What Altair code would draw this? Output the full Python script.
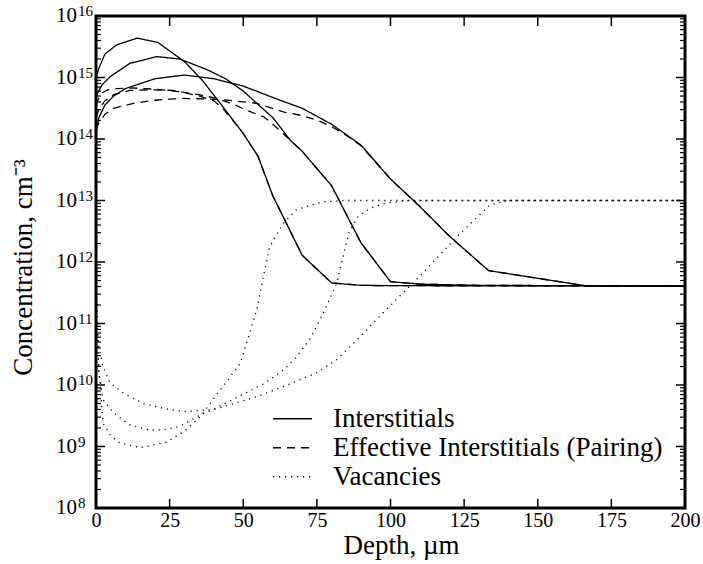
import altair as alt
import pandas as pd

W, H = 589, 492
FONT = "Liberation Serif"

# ---- data (depth in µm, log10 of concentration in cm^-3) ----
# Interstitials (solid)
int1_x = [0, 1, 3, 7, 14, 21, 30, 36, 43, 50, 55, 60, 70, 80, 90, 100, 200]
int1_l = [15.0, 15.15, 15.38, 15.53, 15.64, 15.57, 15.26, 14.96, 14.53, 14.09, 13.72, 13.08, 12.11, 11.66, 11.62, 11.615, 11.61]
int2_x = [0, 2, 5, 11.5, 20.6, 28.5, 37.6, 44, 50, 54.6, 60, 66, 70, 80, 90, 100, 110, 130, 200]
int2_l = [14.69, 14.88, 15.02, 15.23, 15.34, 15.30, 15.13, 14.98, 14.78, 14.58, 14.35, 13.98, 13.8, 13.24, 12.31, 11.68, 11.64, 11.62, 11.61]
int3_x = [0, 1, 3, 6, 10, 20, 30, 40, 50, 62.5, 70, 80, 90, 100, 110, 120, 133.3, 166.7, 200]
int3_l = [14.1, 14.35, 14.55, 14.7, 14.82, 14.98, 15.04, 14.98, 14.86, 14.63, 14.5, 14.24, 13.9, 13.35, 12.9, 12.42, 11.86, 11.61, 11.61]

# Effective interstitials (pairing) (dashed)
eff1_x = [0, 1, 2, 4, 7, 12, 20, 28.5, 35, 40, 43, 46.5, 50, 55, 60, 70, 80, 90, 100, 200]
eff1_l = [14.55, 14.68, 14.75, 14.8, 14.82, 14.83, 14.81, 14.77, 14.7, 14.62, 14.5, 14.3, 14.09, 13.72, 13.08, 12.11, 11.66, 11.62, 11.615, 11.61]
eff2_x = [0, 1, 3, 6, 11.5, 20, 26, 35, 41, 47, 51, 57, 61, 66, 70, 80, 90, 100, 110, 130, 200]
eff2_l = [14.35, 14.48, 14.62, 14.72, 14.79, 14.8, 14.79, 14.72, 14.66, 14.56, 14.47, 14.36, 14.2, 13.98, 13.8, 13.24, 12.31, 11.68, 11.64, 11.62, 11.61]
eff3_x = [0, 1, 3, 6, 12.7, 20, 28.5, 38.7, 45, 54.6, 63.6, 70, 75, 80, 84, 90, 100, 110, 120, 133.3, 166.7, 200]
eff3_l = [14.15, 14.27, 14.4, 14.5, 14.58, 14.63, 14.66, 14.65, 14.63, 14.58, 14.44, 14.38, 14.31, 14.2, 14.09, 13.89, 13.35, 12.9, 12.42, 11.86, 11.61, 11.61]

# Vacancies (dotted)
vac1_x = [0, 0.5, 1, 2.4, 4.8, 8, 15, 24, 30, 35.3, 43, 49, 54.6, 56.8, 59, 63.6, 68, 77, 85, 200]
vac1_l = [11.9, 10.8, 10.2, 9.38, 9.19, 9.06, 8.98, 9.07, 9.25, 9.48, 9.97, 10.35, 11.22, 11.76, 12.25, 12.63, 12.85, 12.98, 13.0, 13.0]
vac2_x = [0, 0.4, 1, 2.4, 5.9, 11.5, 18, 23, 28.5, 35, 43, 50, 57, 63.6, 68, 72.7, 77, 81.7, 86, 89, 93, 97.5, 106, 200]
vac2_l = [11.6, 10.8, 10.2, 9.76, 9.55, 9.35, 9.27, 9.27, 9.33, 9.5, 9.68, 9.85, 10.02, 10.24, 10.45, 10.75, 11.15, 11.65, 12.5, 12.74, 12.87, 12.95, 13.0, 13.0]
vac3_x = [0, 0.4, 1, 2.4, 4.8, 9.3, 16, 25, 30, 40, 54.6, 65, 75, 81.7, 90, 97, 103, 111, 122.5, 133.8, 140, 200]
vac3_l = [11.8, 11.0, 10.6, 10.3, 10.03, 9.87, 9.7, 9.6, 9.57, 9.6, 9.81, 10.0, 10.2, 10.41, 10.8, 11.15, 11.44, 11.82, 12.41, 12.93, 13.0, 13.0]

kinds = ["Interstitials", "Effective Interstitials (Pairing)", "Vacancies"]

series = [
    (kinds[0], "i1", int1_x, int1_l), (kinds[0], "i2", int2_x, int2_l), (kinds[0], "i3", int3_x, int3_l),
    (kinds[1], "e1", eff1_x, eff1_l), (kinds[1], "e2", eff2_x, eff2_l), (kinds[1], "e3", eff3_x, eff3_l),
    (kinds[2], "v1", vac1_x, vac1_l), (kinds[2], "v2", vac2_x, vac2_l), (kinds[2], "v3", vac3_x, vac3_l),
]
rows = []
for kind, run, xs, ls in series:
    for i, (x, l) in enumerate(zip(xs, ls)):
        rows.append({"kind": kind, "run": run, "order": i, "depth": x, "conc": 10 ** l})
df = pd.DataFrame(rows)

# tick positions and tick labels
y_exponents = [8, 9, 10, 11, 12, 13, 14, 15, 16]
y_major = [10 ** e for e in y_exponents]
y_minor = [k * 10 ** e for e in range(8, 16) for k in range(2, 10)]
x_major = [0, 25, 50, 75, 100, 125, 150, 175, 200]
x_inner = [25, 50, 75, 100, 125, 150, 175]

xscale = alt.Scale(domain=[0, 200], nice=False, zero=False)
yscale = alt.Scale(type="log", domain=[1e8, 1e16], nice=False)

XTITLE = "Depth, \u00b5m"
YTITLE = "Concentration, cm\u207b\u00b3"

xaxis = alt.Axis(values=x_major, ticks=False, domain=False, grid=False,
                 labelFont=FONT, labelFontSize=20, labelColor="black",
                 labelPadding=2, labelFlush=False, labelOverlap=False,
                 titleFont=FONT, titleFontSize=27,
                 titleFontWeight="normal", titleColor="black",
                 titleX=305, titleY=45, titleBaseline="alphabetic")
yaxis = alt.Axis(values=y_major, labels=False, ticks=False, domain=False, grid=False,
                 titleFont=FONT, titleFontSize=27,
                 titleFontWeight="normal", titleColor="black",
                 titleX=-59, titleY=251)


def yenc(field="v"):
    return alt.Y(f"{field}:Q", scale=yscale, axis=yaxis, title=YTITLE)


def xenc(field="v"):
    return alt.X(f"{field}:Q", scale=xscale, axis=xaxis, title=XTITLE)


lines = alt.Chart(df).mark_line(color="black", strokeWidth=1.3).encode(
    x=xenc("depth"),
    y=yenc("conc"),
    strokeDash=alt.StrokeDash(
        "kind:N",
        scale=alt.Scale(domain=kinds, range=[[1, 0], [8, 6], [1.2, 4.8]]),
        legend=alt.Legend(orient="none", legendX=176, legendY=389, title=None,
                          symbolType="stroke", symbolSize=1521, symbolStrokeWidth=1.3,
                          symbolStrokeColor="black", labelFont=FONT, labelFontSize=27,
                          labelColor="black", labelOffset=20, padding=0, rowPadding=0,
                          clipHeight=27.5, labelLimit=600)),
    detail="run:N",
    order="order:Q",
)

ymaj_df = pd.DataFrame({"v": y_major})
ymin_df = pd.DataFrame({"v": y_minor})
xin_df = pd.DataFrame({"v": x_inner})
ylab_df = pd.DataFrame({"v": y_major, "base": ["10"] * len(y_major),
                        "exp": [str(e) for e in y_exponents]})

left_major = alt.Chart(ymaj_df).mark_rule(color="black", strokeWidth=1.5).encode(
    y=yenc(), x=alt.value(0), x2=alt.value(9))
left_minor = alt.Chart(ymin_df).mark_rule(color="black", strokeWidth=1.2).encode(
    y=yenc(), x=alt.value(0), x2=alt.value(5))
right_major = alt.Chart(ymaj_df).mark_rule(color="black", strokeWidth=1.5).encode(
    y=yenc(), x=alt.value(W), x2=alt.value(W - 9))
right_minor = alt.Chart(ymin_df).mark_rule(color="black", strokeWidth=1.2).encode(
    y=yenc(), x=alt.value(W), x2=alt.value(W - 5))
bottom_ticks = alt.Chart(xin_df).mark_rule(color="black", strokeWidth=1.5).encode(
    x=xenc(), y=alt.value(H), y2=alt.value(H - 9))
top_ticks = alt.Chart(xin_df).mark_rule(color="black", strokeWidth=1.5).encode(
    x=xenc(), y=alt.value(0), y2=alt.value(10))

# y tick labels: "10" with a raised exponent
ylab_base = alt.Chart(ylab_df).mark_text(
    align="left", baseline="middle", font=FONT, fontSize=21, color="black"
).encode(y=yenc(), x=alt.value(-40), text="base:N")
ylab_exp = alt.Chart(ylab_df).mark_text(
    align="left", baseline="middle", font=FONT, fontSize=15, color="black", dy=-5
).encode(y=yenc(), x=alt.value(-18), text="exp:N")

chart = alt.layer(
    lines, left_major, left_minor, right_major, right_minor, bottom_ticks, top_ticks,
    ylab_base, ylab_exp
).properties(
    width=W, height=H,
    autosize=alt.AutoSizeParams(type="none"),
    padding={"left": 96, "top": 16, "right": 18, "bottom": 56},
    background="white",
).configure_view(stroke="black", strokeWidth=3)

chart.save("out.html", embed_options={"renderer": "svg", "actions": False})
